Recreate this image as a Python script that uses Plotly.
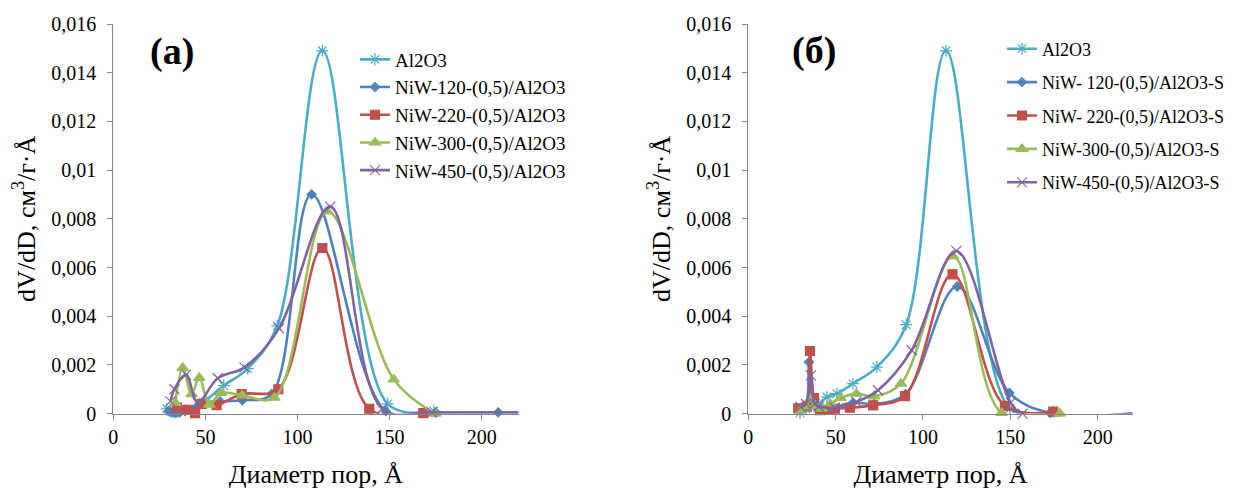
import plotly.graph_objects as go

# ---------------- data: panel (а) ----------------
a_al2o3_x = [29, 31, 33, 35, 37, 47, 60, 73, 89, 113.5, 149, 174]
a_al2o3_y = [0.0002, 0.0001, 0.00005, 0.0001, 0.0002, 0.0004, 0.00115, 0.00185, 0.0036, 0.0149, 0.0004, 0.0001]

a_n120_x = [30, 32, 34, 36, 39, 43, 46, 58, 70, 86, 107.7, 148, 175, 209, 220]
a_n120_y = [0.0001, 0.00005, 0.00003, 0.00005, 0.0001, 0.00015, 0.0003, 0.0005, 0.00055, 0.0008, 0.009, 0.0001, 0.00005, 0.00005, 0.00003]

a_n220_x = [34.4, 39.8, 44.4, 48, 56.1, 69.7, 89.6, 113.5, 139, 168.3]
a_n220_y = [0.00025, 0.00015, 0.00002, 0.0004, 0.00035, 0.0008, 0.001, 0.0068, 0.0002, 0.00002]

a_n300_x = [33.7, 37.7, 42.5, 46.7, 52.2, 58.5, 70, 87.5, 116.3, 152.3, 174.8]
a_n300_y = [0.00044, 0.00188, 0.0008, 0.00147, 0.00037, 0.00085, 0.00075, 0.00065, 0.0083, 0.0014, 0.0]

a_n450_x = [31, 33.2, 39.5, 45.8, 56.7, 71.2, 90, 117.8, 146, 173, 220]
a_n450_y = [0.0005, 0.001, 0.0016, 0.00045, 0.00145, 0.0019, 0.0035, 0.0085, 0.0002, 0.00005, 0.00005]

# ---------------- data: panel (б) ----------------
b_al2o3_x = [29.6, 33, 36, 40, 45, 50.7, 59.9, 73.6, 90.4, 113.2, 149.8, 174.4]
b_al2o3_y = [0.00003, 0.0002, 0.0003, 0.0004, 0.00068, 0.00082, 0.00123, 0.00191, 0.00365, 0.0149, 0.0002, 0.00008]

b_n120_x = [30, 33, 34.7, 36.5, 40, 46, 60, 72, 89.9, 119.6, 149.5, 172.8, 220]
b_n120_y = [0.0002, 0.0003, 0.00212, 0.0004, 0.00015, 0.0002, 0.00045, 0.0004, 0.0008, 0.00522, 0.00085, 0.00003, 0.0]

b_n220_x = [28.6, 33.5, 35.3, 37.6, 41, 46.7, 49.6, 58.2, 71.5, 89.7, 116.9, 146.9, 174.6]
b_n220_y = [0.00022, 0.0003, 0.00257, 0.00064, 0.00014, 0.00016, 0.0002, 0.00024, 0.00034, 0.00072, 0.00572, 0.00032, 0.00008]

b_n300_x = [30, 33, 35.5, 38, 42, 47, 52.8, 61.8, 72, 87.4, 117.3, 145, 178.4]
b_n300_y = [0.00014, 0.0003, 0.0006, 0.0003, 0.0002, 0.0004, 0.00064, 0.00082, 0.00071, 0.00123, 0.00646, 0.00003, 0.0]

b_n450_x = [30, 33, 35.8, 38, 40.3, 49.4, 61.8, 74.3, 93.5, 119.1, 150.2, 157, 220]
b_n450_y = [0.00027, 0.0004, 0.00157, 0.0004, 0.0003, 0.00025, 0.00048, 0.00096, 0.0026, 0.00668, 0.00045, 0.0, 0.0]

x_ticks = [0, 50, 100, 150, 200]
y_ticks = [0, 0.002, 0.004, 0.006, 0.008, 0.01, 0.012, 0.014, 0.016]
y_tick_text = ["0", "0,002", "0,004", "0,006", "0,008", "0,01", "0,012", "0,014", "0,016"]

names_a = ["Al2O3", "NiW-120-(0,5)/Al2O3", "NiW-220-(0,5)/Al2O3",
           "NiW-300-(0,5)/Al2O3", "NiW-450-(0,5)/Al2O3"]
names_b = ["Al2O3", "NiW- 120-(0,5)/Al2O3-S", "NiW- 220-(0,5)/Al2O3-S",
           "NiW-300-(0,5)/Al2O3-S", "NiW-450-(0,5)/Al2O3-S"]

colors = ["#4BACC6", "#4F81BD", "#C0504D", "#9BBB59", "#8064A2"]
symbols = ["asterisk-open", "diamond", "square", "triangle-up", "x-thin-open"]
msizes = [10, 7, 9, 10, 10]

FONT = "Liberation Serif"
W, H = 1241, 491
OFF = 8  # page body margin offset in the browser

def px_x(p):
    return (p - OFF) / W

def px_y(p):
    return 1 - (p - OFF) / H

fig = go.Figure()

series_a = [(a_al2o3_x, a_al2o3_y), (a_n120_x, a_n120_y), (a_n220_x, a_n220_y),
            (a_n300_x, a_n300_y), (a_n450_x, a_n450_y)]
series_b = [(b_al2o3_x, b_al2o3_y), (b_n120_x, b_n120_y), (b_n220_x, b_n220_y),
            (b_n300_x, b_n300_y), (b_n450_x, b_n450_y)]

for panel, series, names, xa, ya, leg in [
        ("a", series_a, names_a, "x", "y", "legend"),
        ("b", series_b, names_b, "x2", "y2", "legend2")]:
    for i, ((xs, ys), nm) in enumerate(zip(series, names)):
        # the far end point at the axis end (220) carries no visible marker
        opac = [1 if xv < 219 else 0 for xv in xs]
        fig.add_trace(go.Scatter(
            x=xs, y=ys, name=nm, xaxis=xa, yaxis=ya, legend=leg,
            legendgroup=f"{panel}{i}",
            mode="lines+markers",
            line=dict(color=colors[i], width=2.6, shape="spline", smoothing=1.0),
            marker=dict(symbol=symbols[i], size=msizes[i], color=colors[i], opacity=opac,
                        line=dict(color=colors[i], width=1.2)),
            cliponaxis=False,
        ))

axis_common = dict(
    showline=True, linecolor="#868686", linewidth=1,
    ticks="outside", ticklen=5, tickcolor="#868686",
    showgrid=False, zeroline=False, automargin=False,
    tickfont=dict(family=FONT, size=20, color="black"),
)

xtitle = dict(text="Диаметр пор, Å", font=dict(family=FONT, size=26, color="black"), standoff=18)
ytitle = dict(text="dV/dD, см<sup>3</sup>/г·Å", font=dict(family=FONT, size=26, color="black"), standoff=8)

ydom = [px_y(413.6), px_y(24)]

fig.update_layout(
    template="none",
    width=W, height=H,
    margin=dict(l=0, r=0, t=0, b=0, autoexpand=False),
    paper_bgcolor="white", plot_bgcolor="white",
    font=dict(family=FONT, color="black"),
    xaxis=dict(domain=[px_x(113.3), px_x(518.5)], range=[0, 220], tickvals=x_ticks,
               anchor="y", title=xtitle, **axis_common),
    yaxis=dict(domain=ydom, range=[0, 0.016], tickvals=y_ticks, ticklabelstandoff=7,
               ticktext=y_tick_text, anchor="x", title=ytitle, **axis_common),
    xaxis2=dict(domain=[px_x(748.3), px_x(1132.6)], range=[0, 220], tickvals=x_ticks,
                anchor="y2", title=xtitle, **axis_common),
    yaxis2=dict(domain=ydom, range=[0, 0.016], tickvals=y_ticks, ticklabelstandoff=7,
                ticktext=y_tick_text, anchor="x2", title=ytitle, **axis_common),
    legend=dict(x=px_x(395 - 40), y=px_y(40.5), xanchor="left", yanchor="top",
                font=dict(family=FONT, size=19, color="black"),
                bgcolor="rgba(0,0,0,0)", tracegroupgap=0, itemwidth=30),
    legend2=dict(x=px_x(1042 - 40), y=px_y(30.5), xanchor="left", yanchor="top",
                 font=dict(family=FONT, size=18, color="black"),
                 bgcolor="rgba(0,0,0,0)", tracegroupgap=7, itemwidth=30),
    annotations=[
        dict(text="<b>(а)</b>", x=px_x(172), y=px_y(52), xref="paper", yref="paper",
             xanchor="center", yanchor="middle",
             showarrow=False, font=dict(family=FONT, size=38, color="black")),
        dict(text="<b>(б)</b>", x=px_x(814), y=px_y(50), xref="paper", yref="paper",
             xanchor="center", yanchor="middle",
             showarrow=False, font=dict(family=FONT, size=38, color="black")),
    ],
)

fig.write_html("out.html")
